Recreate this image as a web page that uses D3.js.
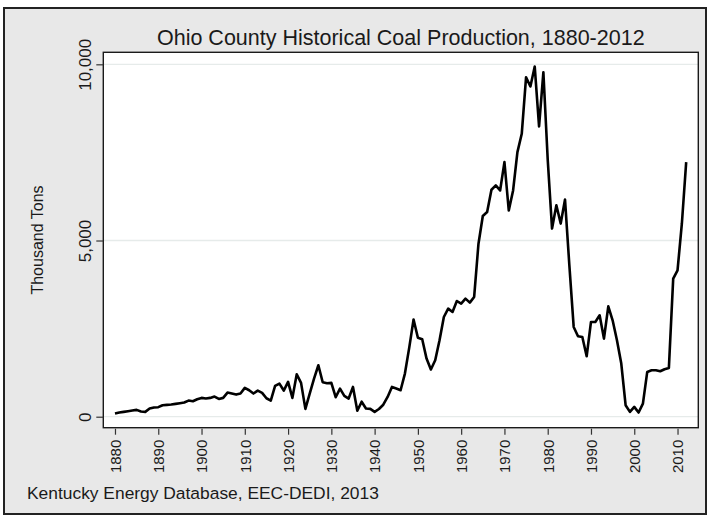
<!DOCTYPE html>
<html>
<head>
<meta charset="utf-8">
<script src="https://cdn.jsdelivr.net/npm/d3@7"></script>
<style>
  html, body { margin: 0; padding: 0; background: #ffffff; }
  svg { display: block; }
  text { font-family: "Liberation Sans", Arial, sans-serif; fill: #1a1a1a; }
</style>
</head>
<body>
<script>
// ---- data ----
const years = [
  1880,1881,1882,1883,1884,1885,1886,1887,1888,1889,
  1890,1891,1892,1893,1894,1895,1896,1897,1898,1899,
  1900,1901,1902,1903,1904,1905,1906,1907,1908,1909,
  1910,1911,1912,1913,1914,1915,1916,1917,1918,1919,
  1920,1921,1922,1923,1924,1925,1926,1927,1928,1929,
  1930,1931,1932,1933,1934,1935,1936,1937,1938,1939,
  1940,1941,1942,1943,1944,1945,1946,1947,1948,1949,
  1950,1951,1952,1953,1954,1955,1956,1957,1958,1959,
  1960,1961,1962,1963,1964,1965,1966,1967,1968,1969,
  1970,1971,1972,1973,1974,1975,1976,1977,1978,1979,
  1980,1981,1982,1983,1984,1985,1986,1987,1988,1989,
  1990,1991,1992,1993,1994,1995,1996,1997,1998,1999,
  2000,2001,2002,2003,2004,2005,2006,2007,2008,2009,
  2010,2011,2012
];
const production = [
  90,118,137,156,175,194,146,137,231,260,
  270,326,335,345,364,383,402,458,440,496,
  534,515,534,572,505,534,685,657,628,657,
  817,751,657,742,676,524,458,874,940,742,
  987,534,1205,959,222,657,1082,1460,978,950,
  959,553,799,591,515,846,170,425,232,222,
  137,220,340,560,845,798,751,1224,1960,2760,
  2240,2197,1649,1340,1602,2169,2830,3067,2972,3284,
  3208,3350,3237,3398,4910,5694,5807,6440,6563,6421,
  7224,5854,6421,7508,8028,9634,9370,9937,8236,9776,
  7300,5339,6000,5481,6161,4300,2547,2283,2264,1716,
  2689,2689,2878,2216,3133,2736,2169,1507,326,137,
  279,118,373,1271,1318,1318,1290,1347,1384,3917,
  4153,5476,7224
];
const yTicks = [0, 5000, 10000];
const xTicks = [1880,1890,1900,1910,1920,1930,1940,1950,1960,1970,1980,1990,2000,2010];
const titleText = "Ohio County Historical Coal Production, 1880-2012";
const yTitleText = "Thousand Tons";
const captionText = "Kentucky Energy Database, EEC-DEDI, 2013";

// ---- layout ----
const W = 710, H = 520;
const plot = { left: 103.3, right: 698.3, top: 52.3, bottom: 427.7 };

const svg = d3.select("body").append("svg").attr("width", W).attr("height", H);

// outer graph region
svg.append("rect").attr("x", 4).attr("y", 8).attr("width", 702).attr("height", 506)
  .attr("fill", "#e8e8e8").attr("stroke", "#222").attr("stroke-width", 2);

// plot region
svg.append("rect").attr("x", plot.left).attr("y", plot.top)
  .attr("width", plot.right - plot.left).attr("height", plot.bottom - plot.top)
  .attr("fill", "#ffffff");

const x = d3.scaleLinear().domain([1877.3, 2014.8]).range([plot.left, plot.right]);
const y = d3.scaleLinear().domain([-312, 10341]).range([plot.bottom, plot.top]);

// gridlines
svg.append("g").selectAll("line").data(yTicks).join("line")
  .attr("x1", plot.left).attr("x2", plot.right)
  .attr("y1", d => y(d)).attr("y2", d => y(d))
  .attr("stroke", "#e6ebea").attr("stroke-width", 1.3);

// data line
const line = d3.line().x((d, i) => x(years[i])).y(d => y(d));
svg.append("path").datum(production)
  .attr("d", line).attr("fill", "none")
  .attr("stroke", "#000").attr("stroke-width", 2.6)
  .attr("stroke-linejoin", "round");

// plot frame
svg.append("rect").attr("x", plot.left).attr("y", plot.top)
  .attr("width", plot.right - plot.left).attr("height", plot.bottom - plot.top)
  .attr("fill", "none").attr("stroke", "#1a1a1a").attr("stroke-width", 1.4);

// y axis
const yAxis = d3.axisLeft(y).tickValues(yTicks).tickSize(7).tickPadding(5)
  .tickFormat(d3.format(","));
const gy = svg.append("g").attr("transform", `translate(${plot.left},0)`).call(yAxis);
gy.select(".domain").remove();
gy.selectAll(".tick line").attr("stroke", "#333").attr("stroke-width", 1.2);
gy.selectAll(".tick text")
  .attr("font-size", 17).attr("fill", "#1a1a1a")
  .attr("text-anchor", "middle").attr("dy", null)
  .attr("transform", function() {
    return "translate(-12,0) rotate(-90)";
  })
  .attr("x", 0).attr("y", 0);

// x axis
const xAxis = d3.axisBottom(x).tickValues(xTicks).tickSize(7).tickPadding(5)
  .tickFormat(d3.format("d"));
const gx = svg.append("g").attr("transform", `translate(0,${plot.bottom})`).call(xAxis);
gx.select(".domain").remove();
gx.selectAll(".tick line").attr("stroke", "#333").attr("stroke-width", 1.2).attr("y1", 1);
gx.selectAll(".tick text")
  .attr("font-size", 15).attr("fill", "#1a1a1a")
  .attr("text-anchor", "end").attr("dy", null)
  .attr("x", 0).attr("y", 0)
  .attr("transform", "translate(5.3,12) rotate(-90)");

// title
svg.append("text").attr("x", (plot.left + plot.right) / 2).attr("y", 45)
  .attr("text-anchor", "middle").attr("font-size", 21.5).text(titleText);

// y axis title
svg.append("text").attr("transform", `translate(43,${(plot.top + plot.bottom) / 2}) rotate(-90)`)
  .attr("text-anchor", "middle").attr("font-size", 16).text(yTitleText);

// caption
svg.append("text").attr("x", 27).attr("y", 499).attr("font-size", 17.4).text(captionText);
</script>
</body>
</html>
